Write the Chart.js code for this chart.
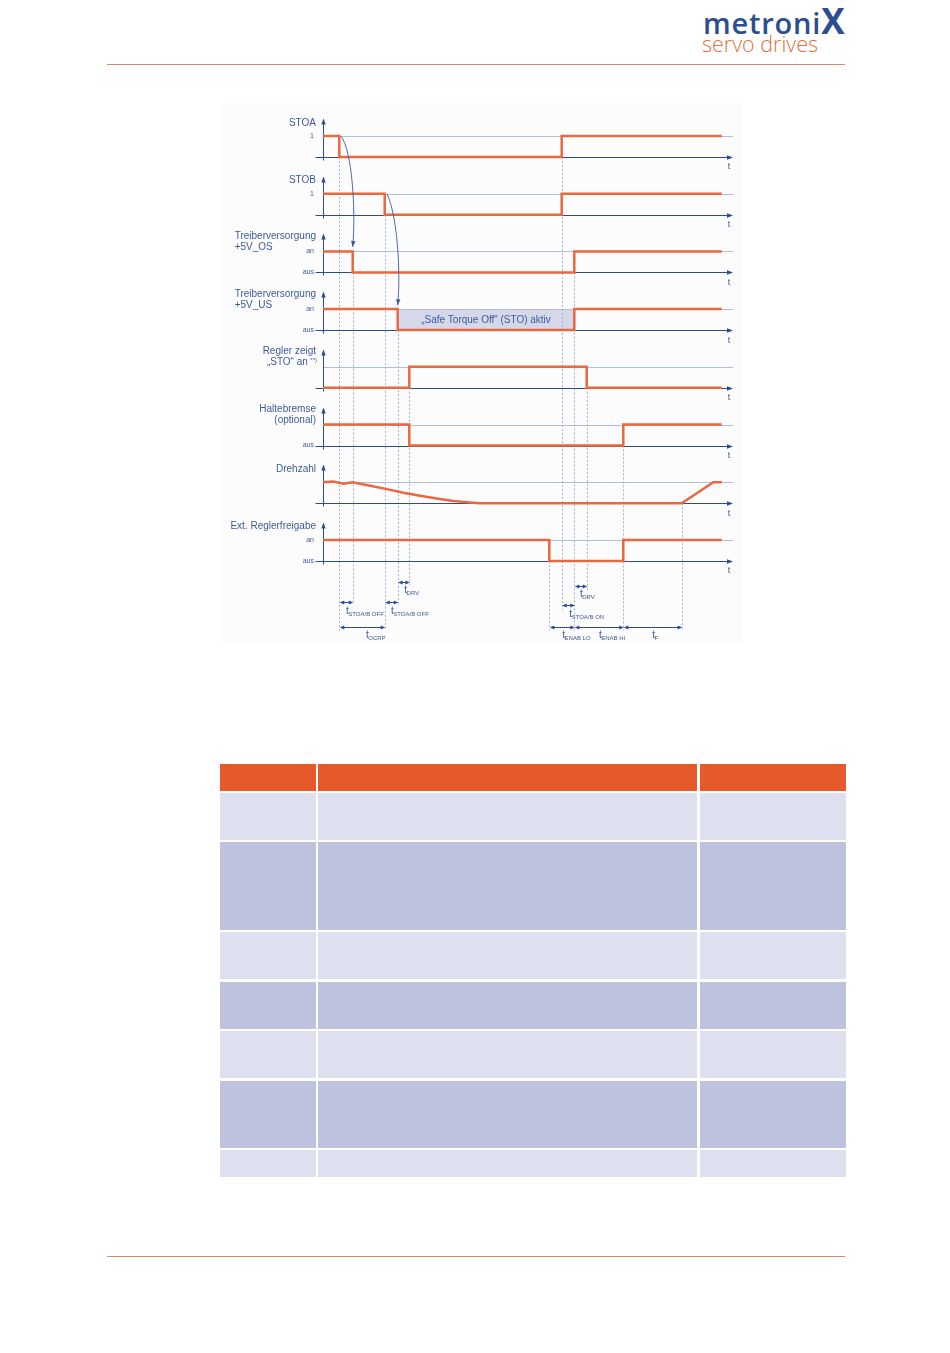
<!DOCTYPE html>
<html>
<head>
<meta charset="utf-8">
<script src="https://cdn.jsdelivr.net/npm/chart.js@4.4.1/dist/chart.umd.min.js"></script>
<style>
  html, body { margin: 0; padding: 0; background: #fff; }
  body { width: 950px; height: 1353px; position: relative; overflow: hidden;
         font-family: "Liberation Sans", Arial, sans-serif; }
  .logo1 { position: absolute; left: 703px; top: 3px; font-family: "Open Sans", "Liberation Sans", sans-serif;
           font-weight: 600; font-size: 29px; color: #2b4f8e; letter-spacing: 0.8px; line-height: 36px; }
  .logo1 .x { font-size: 35px; font-weight: 700; letter-spacing: 0; }
  .logo2 { position: absolute; left: 702px; top: 31px; font-family: "Open Sans", "Liberation Sans", sans-serif;
           font-weight: 300; font-size: 21.5px; color: #e2703f; line-height: 26px; }
  .rule { position: absolute; left: 107px; width: 738px; height: 1px; background: #e48a63; }
  .figbg { position: absolute; left: 222px; top: 103px; width: 520px; height: 540px; background: #fcfcfd; }
  #c { position: absolute; left: 220px; top: 100px; }
  .cell { position: absolute; }
</style>
</head>
<body>
<div class="logo1">metroni<span class="x">X</span></div>
<div class="logo2">servo drives</div>
<div class="rule" style="top:64px"></div>
<div class="rule" style="top:1256px"></div>
<div class="figbg"></div>
<canvas id="c" width="525" height="550"></canvas>
<div id="table"></div>
<script>
'use strict';

/* Signalverläufe: [Zeit, Pegel] – Pegel 1 = an, 0 = aus */
const STOA       = [[0, 1], [16.3, 0], [238.7, 1], [398.7, 1]];
const STOB       = [[0, 1], [61.7, 0], [238.7, 1], [398.7, 1]];
const OS5V       = [[0, 1], [29.7, 0], [251.3, 1], [398.7, 1]];
const US5V       = [[0, 1], [74.7, 0], [251.3, 1], [398.7, 1]];
const REGLER_STO = [[0, 0], [86.3, 1], [263.7, 0], [398.7, 0]];
const BREMSE     = [[0, 1], [86.3, 0], [300.3, 1], [398.7, 1]];
const DREHZAHL   = [[0, 1], [10.3, 1.03], [20.3, 0.93], [29.7, 1], [47, 0.83], [63.7, 0.67],
                    [80.3, 0.5], [97, 0.36], [113.7, 0.22], [130.3, 0.11], [147, 0.03],
                    [157, 0], [358.7, 0], [390.3, 1], [398.7, 1]];
const FREIGABE   = [[0, 1], [226.3, 0], [300.3, 1], [398.7, 1]];

const SIGNALS = [STOA, STOB, OS5V, US5V, REGLER_STO, BREMSE, DREHZAHL, FREIGABE];

/* Beschriftungen */
const ROW_NAMES = [
  ['STOA'], ['STOB'],
  ['Treiberversorgung', '+5V_OS'], ['Treiberversorgung', '+5V_US'],
  ['Regler zeigt', '„STO“ an'], ['Haltebremse', '(optional)'],
  ['Drehzahl'], ['Ext. Reglerfreigabe'],
];
const LEVEL_HI = ['1', '1', 'an', 'an', '', '', '', 'an'];
const LEVEL_LO = ['', '', 'aus', 'aus', '', 'aus', '', 'aus'];
const STO_TEXT = '„Safe Torque Off“ (STO) aktiv';
const STO_SPAN = [74.7, 251.3];

/* Hilfslinien: [Zeit, ab Zeile, bis y] */
const VLINES = [[16.3, 0, -8.2], [29.7, 2, -7.76], [61.7, 1, -8.2], [74.7, 3, -7.76],
                [86.3, 4, -7.42], [226.3, 7, -8.2], [238.7, 0, -7.85], [251.3, 2, -8.2],
                [263.7, 4, -7.5], [300.3, 5, -8.2], [358.7, 6, -8.2]];

/* Zeitbemaßung: von, bis, Höhe, Index, Position Beschriftung */
const DIMS = [
  [16.3, 29.7, -7.72, 'STOA/B OFF', 23],
  [61.7, 74.7, -7.72, 'STOA/B OFF', 68],
  [74.7, 86.3, -7.36, 'DRV', 81.3],
  [16.3, 61.7, -8.14, 'OCRP', 43],
  [251.3, 263.7, -7.43, 'DRV', 257],
  [238.7, 251.3, -7.77, 'STOA/B ON', 246.3],
  [226.3, 251.3, -8.14, 'ENAB LO', 239.3],
  [251.3, 300.3, -8.14, 'ENAB HI', 276],
  [300.3, 358.7, -8.14, 'F', 329.3],
];

/* Kausalpfeile (Bezier in Datenkoordinaten) */
const CAUSE_ARROWS = [
  [[18, 0.36], [29, 0.12], [33, -0.92], [29.7, -1.56]],
  [[64, -0.64], [74, -1.0], [78, -1.96], [74.7, -2.57]],
];

const HIGH = 0.364;      // Höhe des an-Pegels in Zeilen
const T_END = 410;       // Ende der Zeitachse

const ORANGE = '#e9683f';
const AXIS   = '#2d4c8c';
const TEXT   = '#3d5b99';
const REF    = '#b3bfda';
const DASH   = '#a2b4d8';
const FONT   = '"Liberation Sans", Arial, sans-serif';

const decor = {
  id: 'decor',
  beforeDatasetsDraw(chart) {
    const { ctx, scales: { x, y } } = chart;
    const X = v => x.getPixelForValue(v), Y = v => y.getPixelForValue(v);
    const x0 = Math.round(X(0)) + 0.5;
    ctx.save();

    /* STO-Feld */
    ctx.fillStyle = '#d5d8ea';
    ctx.fillRect(X(STO_SPAN[0]), Y(-3 + HIGH), X(STO_SPAN[1]) - X(STO_SPAN[0]), Y(-3) - Y(-3 + HIGH));

    /* Pegel-Referenzlinien */
    ctx.strokeStyle = REF; ctx.lineWidth = 1;
    SIGNALS.forEach((_, i) => {
      const py = Math.round(Y(-i + HIGH)) + 0.5;
      ctx.beginPath(); ctx.moveTo(x0, py); ctx.lineTo(X(T_END), py); ctx.stroke();
    });

    /* gestrichelte Zeitmarken */
    ctx.strokeStyle = DASH; ctx.setLineDash([2, 2]);
    VLINES.forEach(([t, row, yb]) => {
      const px = Math.round(X(t)) + 0.5;
      ctx.beginPath(); ctx.moveTo(px, Y(-row)); ctx.lineTo(px, Y(yb)); ctx.stroke();
    });
    ctx.setLineDash([]);

    /* Achsen */
    ctx.strokeStyle = AXIS; ctx.fillStyle = AXIS; ctx.lineWidth = 1;
    SIGNALS.forEach((_, i) => {
      const py = Math.round(Y(-i)) + 0.5;
      const top = py - 39, xe = X(T_END);
      ctx.beginPath();
      ctx.moveTo(x0 - 8, py); ctx.lineTo(xe - 4, py);
      ctx.moveTo(x0, py + 3); ctx.lineTo(x0, top + 4);
      ctx.stroke();
      ctx.beginPath(); ctx.moveTo(xe, py); ctx.lineTo(xe - 6, py - 2.2); ctx.lineTo(xe - 6, py + 2.2); ctx.fill();
      ctx.beginPath(); ctx.moveTo(x0, top); ctx.lineTo(x0 - 2.2, top + 6); ctx.lineTo(x0 + 2.2, top + 6); ctx.fill();
    });
    ctx.restore();
  },
  afterDatasetsDraw(chart) {
    const { ctx, scales: { x, y } } = chart;
    const X = v => x.getPixelForValue(v), Y = v => y.getPixelForValue(v);
    const x0 = X(0);
    ctx.save();
    ctx.fillStyle = TEXT;

    /* Zeilennamen */
    ctx.font = '10px ' + FONT;
    ROW_NAMES.forEach((lines, i) => {
      const by = Y(-i);
      const right = x0 - 7;
      if (lines.length === 1) {
        ctx.textAlign = 'right';
        ctx.fillText(lines[0], right, by - 31.5);
      } else if (i === 2 || i === 3) {
        const left = right - ctx.measureText(lines[0]).width;
        ctx.textAlign = 'left';
        ctx.fillText(lines[0], left, by - 33.5);
        ctx.fillText(lines[1], left, by - 22.5);
      } else {
        ctx.textAlign = 'right';
        ctx.fillText(lines[0], right, by - 33.5);
        if (i === 4) {
          ctx.font = '6px ' + FONT;
          ctx.fillText('**)', right + 1, by - 25.5);
          const w = ctx.measureText('**)').width;
          ctx.font = '10px ' + FONT;
          ctx.fillText(lines[1], right - w - 1.5, by - 22.5);
        } else {
          ctx.fillText(lines[1], right, by - 22.5);
        }
      }
    });

    /* Pegelbeschriftung */
    ctx.font = '7px ' + FONT; ctx.textAlign = 'right'; ctx.textBaseline = 'middle';
    SIGNALS.forEach((_, i) => {
      if (LEVEL_HI[i]) ctx.fillText(LEVEL_HI[i], x0 - 9, Y(-i + HIGH));
      if (LEVEL_LO[i]) ctx.fillText(LEVEL_LO[i], x0 - 9, Y(-i));
    });
    ctx.font = '9px ' + FONT; ctx.textAlign = 'center';
    SIGNALS.forEach((_, i) => ctx.fillText('t', X(T_END) - 4, Y(-i) + 10));

    /* STO-Text */
    ctx.font = '10px ' + FONT;
    ctx.fillText(STO_TEXT, (X(STO_SPAN[0]) + X(STO_SPAN[1])) / 2, Y(-3 + HIGH / 2) + 0.5);
    ctx.textBaseline = 'alphabetic';

    /* Kausalpfeile */
    ctx.strokeStyle = TEXT; ctx.lineWidth = 0.9;
    CAUSE_ARROWS.forEach(pts => {
      const p = pts.map(([t, v]) => [X(t), Y(v)]);
      ctx.beginPath(); ctx.moveTo(p[0][0], p[0][1]);
      ctx.bezierCurveTo(p[1][0], p[1][1], p[2][0], p[2][1], p[3][0], p[3][1]);
      ctx.stroke();
      const a = Math.atan2(p[3][1] - p[2][1], p[3][0] - p[2][0]);
      ctx.beginPath();
      ctx.moveTo(p[3][0], p[3][1]);
      ctx.lineTo(p[3][0] - 6 * Math.cos(a) + 2.2 * Math.sin(a), p[3][1] - 6 * Math.sin(a) - 2.2 * Math.cos(a));
      ctx.lineTo(p[3][0] - 6 * Math.cos(a) - 2.2 * Math.sin(a), p[3][1] - 6 * Math.sin(a) + 2.2 * Math.cos(a));
      ctx.fill();
    });

    /* Zeitbemaßung */
    ctx.strokeStyle = AXIS; ctx.fillStyle = AXIS; ctx.lineWidth = 1;
    DIMS.forEach(([a, b, v]) => {
      const xa = X(a) + 0.5, xb = X(b) + 0.5, py = Math.round(Y(v)) + 0.5;
      ctx.beginPath(); ctx.moveTo(xa + 2, py); ctx.lineTo(xb - 2, py); ctx.stroke();
      ctx.beginPath(); ctx.moveTo(xa, py); ctx.lineTo(xa + 4.5, py - 2); ctx.lineTo(xa + 4.5, py + 2); ctx.fill();
      ctx.beginPath(); ctx.moveTo(xb, py); ctx.lineTo(xb - 4.5, py - 2); ctx.lineTo(xb - 4.5, py + 2); ctx.fill();
    });
    ctx.fillStyle = TEXT; ctx.textAlign = 'left';
    DIMS.forEach(([a, b, v, sub, at]) => {
      const px = X(at), py = Y(v);
      ctx.font = '10px ' + FONT;
      ctx.fillText('t', px, py + 11.5);
      const w = ctx.measureText('t').width;
      ctx.font = '6px ' + FONT;
      ctx.fillText(sub, px + w - 0.5, py + 13.5);
    });
    ctx.restore();
  },
};

new Chart(document.getElementById('c'), {
  type: 'line',
  data: {
    datasets: SIGNALS.map((sig, i) => ({
      data: sig.map(([t, l]) => ({ x: t, y: -i + l * HIGH })),
      stepped: i !== 6,
      tension: 0,
      borderColor: ORANGE,
      borderWidth: 2.5,
      pointRadius: 0,
      fill: false,
      clip: false,
    })),
  },
  options: {
    responsive: false,
    animation: false,
    layout: { padding: { left: 103, right: 12, top: 0, bottom: 0 } },
    scales: {
      x: { type: 'linear', min: 0, max: T_END, display: false },
      y: { type: 'linear', min: -8.544, max: 0.988, display: false },
    },
    plugins: { legend: { display: false }, tooltip: { enabled: false } },
  },
  plugins: [decor],
});

/* Leere Tabelle unterhalb des Diagramms */
const COL_X = [[220, 316], [318, 697], [700, 846]];
const ROW_Y = [[764, 791], [793, 840], [842, 930], [932, 979], [982, 1029], [1031, 1078], [1081, 1148], [1150, 1177]];
const table = document.getElementById('table');
ROW_Y.forEach(([y0, y1], r) => {
  const bg = r === 0 ? '#e5592b' : (r % 2 ? '#dedfef' : '#bec2df');
  COL_X.forEach(([x0, x1]) => {
    const d = document.createElement('div');
    d.className = 'cell';
    d.style.cssText = `left:${x0}px;top:${y0}px;width:${x1 - x0}px;height:${y1 - y0}px;background:${bg}`;
    table.appendChild(d);
  });
});
</script>
</body>
</html>
